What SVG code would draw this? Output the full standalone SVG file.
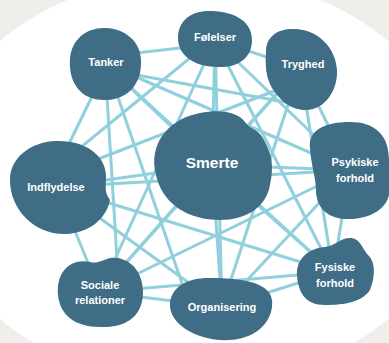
<svg xmlns="http://www.w3.org/2000/svg" width="389" height="343" viewBox="0 0 389 343">
<style>
.bg{fill:#efeeea}
.edge{stroke:#8fd0dc;stroke-width:3;fill:none}
.node{fill:#3f6d86}
.lbl{font-family:"Liberation Sans",Arial,sans-serif;font-weight:bold;font-size:11px;fill:#ffffff;text-anchor:middle}
.big{font-size:15.5px}
</style>
<rect class="bg" x="0" y="0" width="389" height="343"/>
<ellipse cx="194" cy="180" rx="264" ry="205" fill="#ffffff"/>
<g id="connectors">
<line class="edge" x1="110" y1="56" x2="215" y2="44"/>
<line class="edge" x1="120" y1="72" x2="290" y2="103"/>
<line class="edge" x1="104" y1="63" x2="350" y2="170"/>
<line class="edge" x1="104" y1="63" x2="212" y2="165"/>
<line class="edge" x1="100" y1="80" x2="66" y2="150"/>
<line class="edge" x1="106" y1="80" x2="118" y2="275"/>
<line class="edge" x1="112" y1="80" x2="186" y2="295"/>
<line class="edge" x1="104" y1="63" x2="333" y2="272"/>
<line class="edge" x1="215" y1="40" x2="300" y2="68"/>
<line class="edge" x1="215" y1="40" x2="350" y2="170"/>
<line class="edge" x1="215" y1="40" x2="212" y2="165"/>
<line class="edge" x1="212" y1="40" x2="75" y2="152"/>
<line class="edge" x1="215" y1="40" x2="100" y2="292"/>
<line class="edge" x1="215" y1="40" x2="222" y2="307"/>
<line class="edge" x1="215" y1="40" x2="333" y2="272"/>
<line class="edge" x1="300" y1="68" x2="350" y2="170"/>
<line class="edge" x1="300" y1="68" x2="212" y2="165"/>
<line class="edge" x1="290" y1="85" x2="80" y2="166"/>
<line class="edge" x1="300" y1="68" x2="100" y2="292"/>
<line class="edge" x1="300" y1="68" x2="222" y2="307"/>
<line class="edge" x1="300" y1="68" x2="333" y2="272"/>
<line class="edge" x1="350" y1="170" x2="212" y2="165"/>
<line class="edge" x1="350" y1="170" x2="57" y2="187"/>
<line class="edge" x1="350" y1="170" x2="100" y2="292"/>
<line class="edge" x1="350" y1="170" x2="222" y2="307"/>
<line class="edge" x1="350" y1="170" x2="333" y2="272"/>
<line class="edge" x1="212" y1="165" x2="57" y2="187"/>
<line class="edge" x1="212" y1="165" x2="100" y2="292"/>
<line class="edge" x1="212" y1="165" x2="222" y2="307"/>
<line class="edge" x1="212" y1="165" x2="333" y2="272"/>
<line class="edge" x1="57" y1="187" x2="100" y2="292"/>
<line class="edge" x1="57" y1="187" x2="222" y2="307"/>
<line class="edge" x1="57" y1="187" x2="333" y2="272"/>
<line class="edge" x1="100" y1="292" x2="222" y2="307"/>
<line class="edge" x1="100" y1="292" x2="333" y2="272"/>
<line class="edge" x1="222" y1="307" x2="333" y2="272"/>
</g>
<g id="tanker"><path class="node" d="M 70,58 C 72,38 88,27 106,28 C 124,29 140,40 141,60 C 142,82 130,99 106,100 C 82,101 68,84 70,58 Z"/><text class="lbl" x="106" y="66">Tanker</text></g>
<g id="foelelser"><path class="node" d="M 178,38 C 178,20 192,10 212,11 C 236,12 252,22 252,40 C 252,58 238,68 218,67 C 195,67 178,56 178,38 Z"/><text class="lbl" x="215" y="41">Følelser</text></g>
<g id="tryghed"><path class="node" d="M 266,52 C 266,36 278,28 296,29 C 318,30 336,48 337,70 C 338,90 325,110 306,110 C 290,110 280,100 272,88 C 266,78 265,65 266,52 Z"/><text class="lbl" x="303" y="68">Tryghed</text></g>
<g id="psykiske"><path class="node" d="M 310,148 C 308,130 325,122 350,122 C 375,122 389,135 389,160 L 389,195 C 385,212 365,220 345,219 C 328,218 316,208 316,190 C 316,178 311,165 310,148 Z"/><text class="lbl" x="355" y="166">Psykiske</text><text class="lbl" x="355" y="182">forhold</text></g>
<g id="smerte"><path class="node" d="M 155,170 C 150,140 172,118 200,113 C 220,109 238,112 245,122 C 250,130 258,128 264,140 C 272,155 274,165 270,185 C 266,208 245,220 220,220 C 190,220 160,205 155,170 Z"/><text class="lbl big" x="212" y="168">Smerte</text></g>
<g id="indflydelse"><path class="node" d="M 10,180 C 10,158 30,142 56,141 C 85,140 105,155 106,175 C 106,186 104,192 110,200 C 106,220 88,233 66,234 C 35,235 10,210 10,180 Z"/><text class="lbl" x="56" y="191">Indflydelse</text></g>
<g id="sociale"><path class="node" d="M 58,295 C 56,270 72,258 90,262 C 98,264 102,260 110,258 C 128,256 143,270 143,292 C 143,315 128,328 100,327 C 75,327 60,315 58,295 Z"/><text class="lbl" x="100" y="289">Sociale</text><text class="lbl" x="100" y="304">relationer</text></g>
<g id="organisering"><path class="node" d="M 170,303 C 172,285 190,277 212,278 C 240,278 270,282 272,300 C 274,318 260,338 230,340 C 200,342 168,325 170,303 Z"/><text class="lbl" x="222" y="311">Organisering</text></g>
<g id="fysiske"><path class="node" d="M 297,275 C 296,258 310,248 325,247 C 335,246 340,238 350,238 C 360,238 362,248 368,255 C 376,262 375,278 370,290 C 362,302 345,305 325,305 C 305,305 298,292 297,275 Z"/><text class="lbl" x="335" y="271">Fysiske</text><text class="lbl" x="335" y="287">forhold</text></g>
</svg>
